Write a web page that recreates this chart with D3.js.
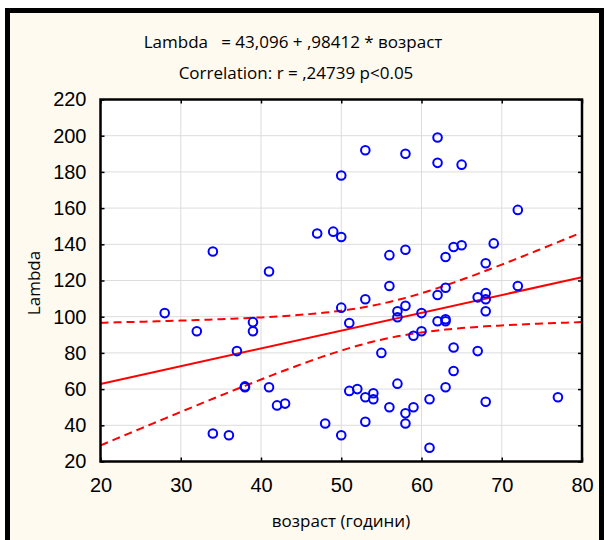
<!DOCTYPE html>
<meta charset="utf-8">
<head>
  <title>Lambda vs возраст</title>
  <script src="https://d3js.org/d3.v7.min.js"></script>
  <style>
    body { margin: 0; background: white; }
    .title { font-family: "Liberation Sans Narrow", "Open Sans", sans-serif; font-size: 17px; fill: black; }
    .tick text { font-family: "Liberation Sans", Arial, sans-serif; font-size: 20px; fill: black; }
    .axis path { display: none; }
    .grid line { stroke: #dcdcdc; stroke-width: 1; }
  </style>
</head>
<body>
<script>
  // age (years)
  var vozrast = [28, 32, 34, 34, 36, 37, 38, 38, 39, 39, 41, 41, 42, 43, 47, 48, 49, 50, 50, 50, 50,
    51, 51, 52, 53, 53, 53, 53, 54, 54, 55, 56, 56, 56, 57, 57, 57, 58, 58, 58, 58, 58,
    59, 59, 60, 60, 61, 61, 62, 62, 62, 62, 63, 63, 63, 63, 63, 64, 64, 64, 65, 65,
    67, 67, 68, 68, 68, 68, 68, 69, 72, 72, 77];
  var lambda = [102, 92, 136, 35.5, 34.5, 81, 61, 61.5, 97, 92, 125, 61, 51, 52, 146, 41, 147, 178, 144, 105, 34.5,
    96.5, 59, 60, 192, 109.6, 55.5, 42, 57.7, 54.4, 80, 134, 117, 50, 103, 99.7, 63, 190, 137, 106, 46.6, 41,
    89.5, 50, 102, 92, 54.4, 27.6, 199, 185, 112, 97.5, 133, 116, 98.6, 97.5, 61, 138.5, 83, 70, 184, 139.5,
    110.7, 81, 129.5, 113, 109.6, 103, 53, 140.5, 159, 117, 55.5];
  var xTicks = [20, 30, 40, 50, 60, 70, 80];
  var yTicks = [20, 40, 60, 80, 100, 120, 140, 160, 180, 200, 220];
  var intercept = 43.096, slope = 0.98412;

  var W = 607, H = 540;
  var margin = { top: 99.5, right: 25, bottom: 78.5, left: 100.5 };
  var width = W - margin.left - margin.right;
  var height = H - margin.top - margin.bottom;

  var svg = d3.select("body").append("svg")
    .attr("width", W)
    .attr("height", H);

  // cream panel with black frame
  svg.append("rect").attr("x", 0).attr("y", 0).attr("width", W).attr("height", H).attr("fill", "white");
  svg.append("rect").attr("x", 7.5).attr("y", 10.5).attr("width", 594).attr("height", 540)
    .attr("fill", "#fffaf0").attr("stroke", "black").attr("stroke-width", 5);
  svg.append("line").attr("x1", 602).attr("x2", 602).attr("y1", 8).attr("y2", H)
    .attr("stroke", "black").attr("stroke-width", 3);

  var g = svg.append("g")
    .attr("transform", "translate(" + margin.left + "," + margin.top + ")");

  var x = d3.scaleLinear().domain([20, 80]).range([0, width]);
  var y = d3.scaleLinear().domain([20, 220]).range([height, 0]);

  g.append("rect").attr("width", width).attr("height", height).attr("fill", "white");

  // grid
  g.append("g").attr("class", "grid")
    .selectAll("line.v").data(xTicks).enter().append("line")
    .attr("x1", function(d) { return x(d); }).attr("x2", function(d) { return x(d); })
    .attr("y1", 0).attr("y2", height);
  g.append("g").attr("class", "grid")
    .selectAll("line.h").data(yTicks).enter().append("line")
    .attr("y1", function(d) { return y(d); }).attr("y2", function(d) { return y(d); })
    .attr("x1", 0).attr("x2", width);

  // axes (ticks inward)
  g.append("g").attr("class", "axis")
    .attr("transform", "translate(0," + height + ")")
    .call(d3.axisBottom(x).tickValues(xTicks).tickSizeInner(-4).tickSizeOuter(0).tickPadding(16));
  g.append("g").attr("class", "axis")
    .call(d3.axisLeft(y).tickValues(yTicks).tickSizeInner(-4).tickSizeOuter(0).tickPadding(14));
  g.append("g").attr("class", "axis")
    .call(d3.axisTop(x).tickValues(xTicks).tickSizeInner(-4).tickSizeOuter(0).tickFormat(""));
  g.append("g").attr("class", "axis")
    .attr("transform", "translate(" + width + ",0)")
    .call(d3.axisRight(y).tickValues(yTicks).tickSizeInner(-4).tickSizeOuter(0).tickFormat(""));
  g.selectAll(".axis .tick line").attr("stroke", "black").attr("stroke-width", 1.5);

  // regression line and 95% confidence band
  var n = vozrast.length;
  var xm = d3.mean(vozrast);
  var sxx = d3.sum(vozrast, function(v) { return (v - xm) * (v - xm); });
  var sse = d3.sum(vozrast, function(v, i) { var r = lambda[i] - (intercept + slope * v); return r * r; });
  var s = Math.sqrt(sse / (n - 2));
  var t = 1.994;
  var xs = d3.range(20, 80.01, 0.5);
  function band(sign) {
    return xs.map(function(v) {
      var h = t * s * Math.sqrt(1 / n + (v - xm) * (v - xm) / sxx);
      return [v, intercept + slope * v + sign * h];
    });
  }
  var line = d3.line()
    .x(function(d) { return x(d[0]); })
    .y(function(d) { return y(d[1]); });

  var clip = svg.append("clipPath").attr("id", "plotclip")
    .append("rect").attr("width", width).attr("height", height);
  var lines = g.append("g").attr("clip-path", "url(#plotclip)");

  lines.append("path")
    .datum([[20, intercept + slope * 20], [80, intercept + slope * 80]])
    .attr("d", line).attr("fill", "none").attr("stroke", "#ff0000").attr("stroke-width", 2);
  [1, -1].forEach(function(sg) {
    lines.append("path").datum(band(sg))
      .attr("d", line).attr("fill", "none").attr("stroke", "#ff0000")
      .attr("stroke-width", 2).attr("stroke-dasharray", "8,5");
  });

  // points
  g.selectAll(".pt")
    .data(vozrast)
    .enter().append("circle")
    .attr("class", "pt")
    .attr("cx", function(d) { return x(d); })
    .attr("cy", function(d, i) { return y(lambda[i]); })
    .attr("r", 4.3)
    .attr("fill", "none")
    .attr("stroke", "#0000ff")
    .attr("stroke-width", 2);

  // frame of the plot
  g.append("rect").attr("width", width).attr("height", height)
    .attr("fill", "none").attr("stroke", "black").attr("stroke-width", 2.5);

  // texts
  svg.append("text").attr("class", "title")
    .attr("x", 293).attr("y", 48).attr("text-anchor", "middle")
    .attr("xml:space", "preserve")
    .text("Lambda   = 43,096 + ,98412 * возраст");
  svg.append("text").attr("class", "title")
    .attr("x", 296).attr("y", 79).attr("text-anchor", "middle")
    .text("Correlation: r = ,24739 p<0.05");
  svg.append("text").attr("class", "title")
    .attr("x", 341).attr("y", 527).attr("text-anchor", "middle")
    .text("возраст (години)");
  svg.append("text").attr("class", "title")
    .attr("transform", "translate(40,283) rotate(-90)")
    .attr("text-anchor", "middle")
    .text("Lambda");
</script>
</body>
</html>
